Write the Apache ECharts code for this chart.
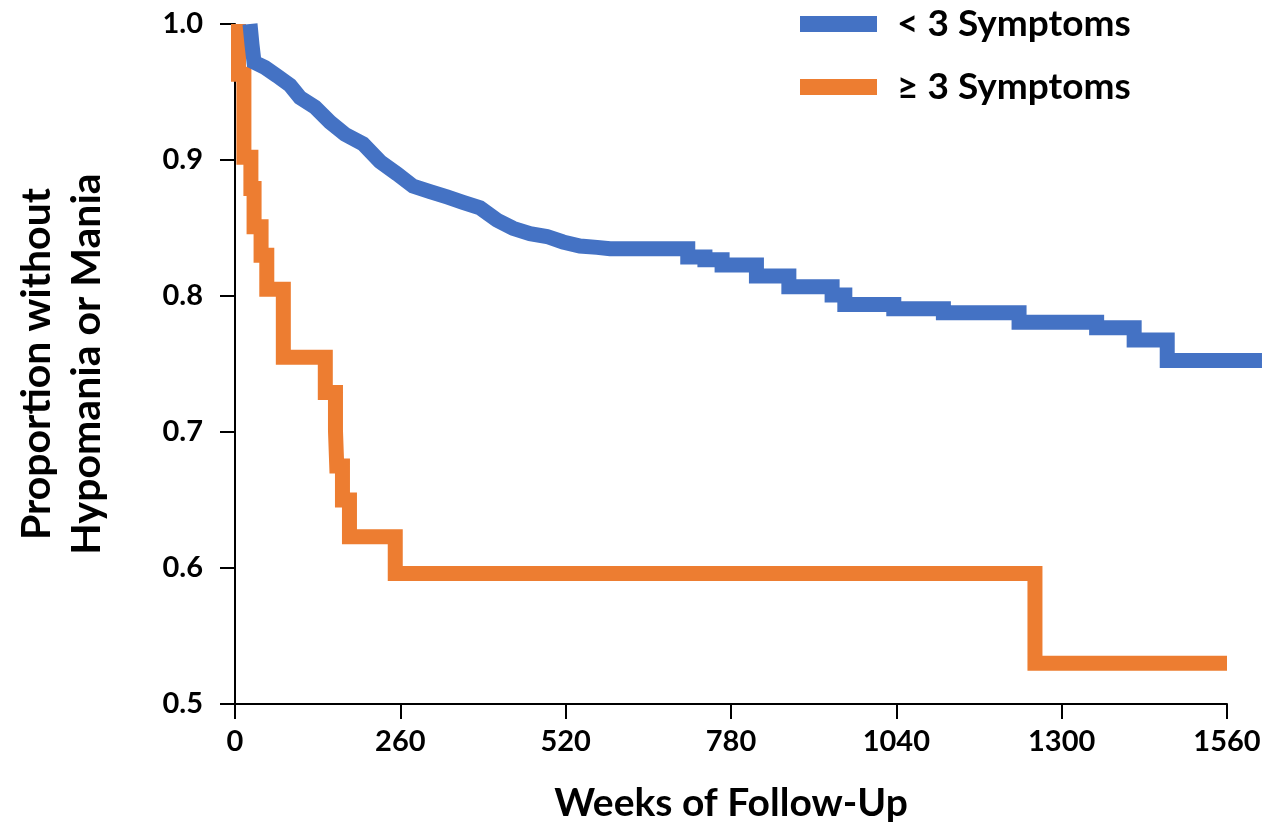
<!DOCTYPE html>
<html>
<head>
<meta charset="utf-8">
<script src="https://cdn.jsdelivr.net/npm/echarts@6/dist/echarts.min.js"></script>
<style>
html,body{margin:0;padding:0;background:#fff;}
#chart{width:1281px;height:828px;}
</style>
</head>
<body>
<div id="chart"></div>
<script>
// ---- data ----
const seriesNames = ['< 3 Symptoms', '\u2265 3 Symptoms'];
const xTicks = [0, 260, 520, 780, 1040, 1300, 1560];
const yTicks = [0.5, 0.6, 0.7, 0.8, 0.9, 1.0];

// < 3 Symptoms: early dense part (many small events, read as a curve)
const blueCurveWeeks  = [23.6, 26.7, 29.9, 47.2, 66.0, 86.5, 102.2, 125.8, 149.4, 173.0, 201.3, 228.0, 254.8, 279.9, 306.7, 333.4, 358.5, 385.3, 412.0, 437.2, 463.9, 490.6, 515.8, 542.5, 569.3, 589.7];
const blueCurveValues = [1.000, 0.985, 0.972, 0.968, 0.962, 0.955, 0.946, 0.939, 0.928, 0.919, 0.912, 0.899, 0.890, 0.881, 0.877, 0.873, 0.869, 0.865, 0.856, 0.850, 0.846, 0.844, 0.840, 0.837, 0.836, 0.835];
// < 3 Symptoms: later step events
const blueStepWeeks  = [712, 739, 766, 820, 871, 939, 959, 1036, 1114, 1233, 1355, 1414, 1466];
const blueStepValues = [0.829, 0.827, 0.823, 0.815, 0.807, 0.801, 0.794, 0.791, 0.788, 0.781, 0.777, 0.768, 0.753];
const blueEndWeek = 1615;

// >= 3 Symptoms: step events
const orangeStartValue = 1.0;
const orangeStepWeeks  = [5.5, 14, 25, 30, 41, 50, 76, 142, 158, 160, 169, 180, 252, 1258];
const orangeStepValues = [0.963, 0.902, 0.879, 0.851, 0.830, 0.805, 0.755, 0.729, 0.701, 0.675, 0.650, 0.623, 0.596, 0.530];
const orangeEndWeek = 1560;

// ---- build step paths ----
function stepPath(startPts, stepW, stepV, endW) {
  const pts = startPts.slice();
  let prev = pts[pts.length - 1][1];
  for (let i = 0; i < stepW.length; i++) {
    const last = pts[pts.length - 1];
    if (!(last[0] === stepW[i] && last[1] === prev)) pts.push([stepW[i], prev]);
    pts.push([stepW[i], stepV[i]]);
    prev = stepV[i];
  }
  pts.push([endW, prev]);
  return pts;
}
const blueStart = blueCurveWeeks.map((w, i) => [w, blueCurveValues[i]]);
const blueData = stepPath(blueStart, blueStepWeeks, blueStepValues, blueEndWeek);
const orangeData = stepPath([[orangeStepWeeks[0], orangeStartValue]], orangeStepWeeks, orangeStepValues, orangeEndWeek);

// layout
const W = 1281, GL = 235, GR = 54, GT = 24, GB = 123;
const xMax = xTicks[xTicks.length - 1];
const plotW = W - GL - GR;
// an overlay grid with the same scale, extended so the blue curve can run past 1560 as in the source
const xMax2 = 1620;
const GR2 = W - GL - plotW * xMax2 / xMax;

const FONT = 'Lato';
const chart = echarts.init(document.getElementById('chart'), null, {renderer: 'canvas'});
chart.setOption({
  animation: false,
  backgroundColor: '#ffffff',
  grid: [
    {left: GL, right: GR, top: GT, bottom: GB, containLabel: false},
    {left: GL, right: GR2, top: GT, bottom: GB, containLabel: false}
  ],
  legend: {
    orient: 'vertical', left: 800, top: 4, padding: 0,
    itemWidth: 77, itemHeight: 16, itemGap: 23, icon: 'rect',
    data: seriesNames,
    textStyle: {fontFamily: FONT, fontWeight: 'bold', fontSize: 37, color: '#000', lineHeight: 40, padding: [0, 0, 0, 15]}
  },
  xAxis: [{
    gridIndex: 0, type: 'value', min: xTicks[0], max: xMax, interval: 260,
    name: 'Weeks of Follow-Up', nameLocation: 'middle', nameGap: 80,
    nameTextStyle: {fontFamily: FONT, fontWeight: 'bold', fontSize: 39, color: '#000'},
    axisLine: {show: true, lineStyle: {color: '#000', width: 2}},
    axisTick: {show: true, length: 15, lineStyle: {color: '#000', width: 2}},
    axisLabel: {margin: 23, fontFamily: FONT, fontWeight: 'bold', fontSize: 29, color: '#000',
      formatter: v => String(v)},
    splitLine: {show: false}
  }, {
    gridIndex: 1, type: 'value', min: 0, max: xMax2, show: false, splitLine: {show: false}
  }],
  yAxis: [{
    gridIndex: 0, type: 'value', min: yTicks[0], max: yTicks[yTicks.length - 1], interval: 0.1,
    name: 'Proportion without\nHypomania or Mania', nameLocation: 'middle', nameGap: 123,
    nameTextStyle: {fontFamily: FONT, fontWeight: 'bold', fontSize: 41, color: '#000', lineHeight: 50},
    axisLine: {show: true, lineStyle: {color: '#000', width: 2}},
    axisTick: {show: true, length: 15, lineStyle: {color: '#000', width: 2}},
    axisLabel: {margin: 32, fontFamily: FONT, fontWeight: 'bold', fontSize: 29, color: '#000',
      formatter: v => v.toFixed(1)},
    splitLine: {show: false}
  }, {
    gridIndex: 1, type: 'value', min: yTicks[0], max: yTicks[yTicks.length - 1], show: false, splitLine: {show: false}
  }],
  series: [
    {
      name: seriesNames[0], type: 'line', data: blueData, showSymbol: false, symbol: 'none',
      xAxisIndex: 1, yAxisIndex: 1,
      clip: false, z: 3, color: '#4472C4',
      lineStyle: {color: '#4472C4', width: 15, join: 'miter', cap: 'butt'}
    },
    {
      name: seriesNames[1], type: 'line', data: orangeData, showSymbol: false, symbol: 'none',
      xAxisIndex: 0, yAxisIndex: 0,
      clip: false, z: 2, color: '#ED7D31',
      lineStyle: {color: '#ED7D31', width: 15, join: 'miter', cap: 'butt'}
    }
  ]
});
</script>
</body>
</html>
